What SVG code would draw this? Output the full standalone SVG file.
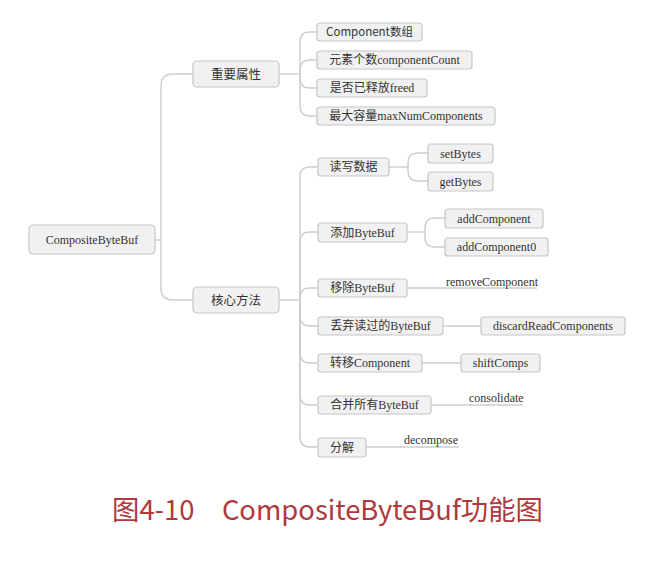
<svg xmlns="http://www.w3.org/2000/svg" width="670" height="561" viewBox="0 0 670 561">
<style>
.bx{fill:#f1f1f1;stroke:#c6c6c6;stroke-width:1.2}
.t{font-family:"Liberation Serif","Noto Sans CJK SC",serif;font-size:12px;fill:#333;text-anchor:middle}
.ts{font-family:"Noto Sans CJK SC","Noto Sans",sans-serif;font-size:11.5px;fill:#333;text-anchor:middle}
.t1{font-family:"Liberation Serif","Noto Sans CJK SC",serif;font-size:12.5px;fill:#333;text-anchor:middle}
.tl{font-family:"Liberation Serif","Noto Sans CJK SC",serif;font-size:12px;fill:#333}
.c{fill:none;stroke:#cdcdcd;stroke-width:1.4}
.cap{font-family:"Noto Sans CJK SC","Noto Sans",sans-serif;font-size:27.4px;fill:#b0393a}
</style>
<rect width="670" height="561" fill="#fff"/>
<g id="connectors">
<path class="c" d="M155,240 H161"/>
<path class="c" d="M161,240 V86 Q161,74 173,74 H193"/>
<path class="c" d="M161,240 V288 Q161,300 173,300 H193"/>
<path class="c" d="M279,74 H300"/>
<path class="c" d="M300,74 V42 Q300,32 310,32 H317"/>
<path class="c" d="M300,74 V70 Q300,60 310,60 H317"/>
<path class="c" d="M300,74 V78 Q300,88 310,88 H317"/>
<path class="c" d="M300,74 V106 Q300,116 310,116 H317"/>
<path class="c" d="M279,300 H300"/>
<path class="c" d="M300,300 V177 Q300,167 310,167 H318"/>
<path class="c" d="M300,300 V242 Q300,232 310,232 H318"/>
<path class="c" d="M300,300 V298 Q300,288 310,288 H318"/>
<path class="c" d="M300,300 V316 Q300,326 310,326 H318"/>
<path class="c" d="M300,300 V353 Q300,363 310,363 H318"/>
<path class="c" d="M300,300 V395 Q300,405 310,405 H318"/>
<path class="c" d="M300,300 V437 Q300,447 310,447 H318"/>
<path class="c" d="M389,167 H408"/>
<path class="c" d="M408,167 V163 Q408,153 418,153 H428"/>
<path class="c" d="M408,167 V171 Q408,181 418,181 H428"/>
<path class="c" d="M407,232 H425"/>
<path class="c" d="M425,232 V228 Q425,218 435,218 H445"/>
<path class="c" d="M425,232 V237 Q425,247 435,247 H445"/>
<path class="c" d="M407,288 H537"/>
<path class="c" d="M443,326 H481"/>
<path class="c" d="M422,363 H461"/>
<path class="c" d="M431,405 H523"/>
<path class="c" d="M366,447 H459"/>
</g>
<g id="root"><rect class="bx" x="29" y="225" width="126" height="29" rx="4"/><text class="t" x="92" y="244">CompositeByteBuf</text></g>
<g id="n-attr"><rect class="bx" x="193" y="61" width="86" height="26" rx="4"/><text class="t1" x="236" y="78.5">重要属性</text></g>
<g id="n-method"><rect class="bx" x="193" y="287" width="86" height="26" rx="4"/><text class="t1" x="236" y="304.5">核心方法</text></g>
<g id="a1"><rect class="bx" x="317" y="23" width="105" height="18" rx="3"/><text class="ts" x="369.5" y="36">Component数组</text></g>
<g id="a2"><rect class="bx" x="317" y="51" width="155" height="18" rx="3"/><text class="t" x="394.5" y="64">元素个数componentCount</text></g>
<g id="a3"><rect class="bx" x="317" y="79" width="110" height="18" rx="3"/><text class="t" x="372" y="92">是否已释放freed</text></g>
<g id="a4"><rect class="bx" x="317" y="107" width="178" height="18" rx="3"/><text class="t" x="406" y="120">最大容量maxNumComponents</text></g>
<g id="m1"><rect class="bx" x="318" y="158" width="71" height="18" rx="3"/><text class="t" x="353.5" y="171">读写数据</text></g>
<g id="m1a"><rect class="bx" x="428" y="144" width="65" height="19" rx="3"/><text class="t" x="460.5" y="157.5">setBytes</text></g>
<g id="m1b"><rect class="bx" x="428" y="172" width="65" height="19" rx="3"/><text class="t" x="460.5" y="185.5">getBytes</text></g>
<g id="m2"><rect class="bx" x="318" y="223" width="89" height="19" rx="3"/><text class="t" x="362.5" y="236.5">添加ByteBuf</text></g>
<g id="m2a"><rect class="bx" x="445" y="209" width="98" height="19" rx="3"/><text class="t" x="494" y="222.5">addComponent</text></g>
<g id="m2b"><rect class="bx" x="445" y="238" width="103" height="18" rx="3"/><text class="t" x="496.5" y="251">addComponent0</text></g>
<g id="m3"><rect class="bx" x="318" y="279" width="89" height="18" rx="3"/><text class="t" x="362.5" y="292">移除ByteBuf</text></g>
<g id="m3a"><text class="tl" x="446" y="285.5">removeComponent</text></g>
<g id="m4"><rect class="bx" x="318" y="317" width="125" height="18" rx="3"/><text class="t" x="380.5" y="330">丢弃读过的ByteBuf</text></g>
<g id="m4a"><rect class="bx" x="481" y="317" width="144" height="18" rx="3"/><text class="t" x="553" y="330">discardReadComponents</text></g>
<g id="m5"><rect class="bx" x="318" y="354" width="104" height="18" rx="3"/><text class="t" x="370" y="367">转移Component</text></g>
<g id="m5a"><rect class="bx" x="461" y="354" width="79" height="18" rx="3"/><text class="t" x="500.5" y="367">shiftComps</text></g>
<g id="m6"><rect class="bx" x="318" y="396" width="113" height="18" rx="3"/><text class="t" x="374.5" y="409">合并所有ByteBuf</text></g>
<g id="m6a"><text class="tl" x="469" y="401.5">consolidate</text></g>
<g id="m7"><rect class="bx" x="318" y="438" width="48" height="19" rx="3"/><text class="t" x="342" y="451.5">分解</text></g>
<g id="m7a"><text class="tl" x="404" y="443.5">decompose</text></g>
<text class="cap" x="112" y="520">图4-10　CompositeByteBuf功能图</text>
</svg>
